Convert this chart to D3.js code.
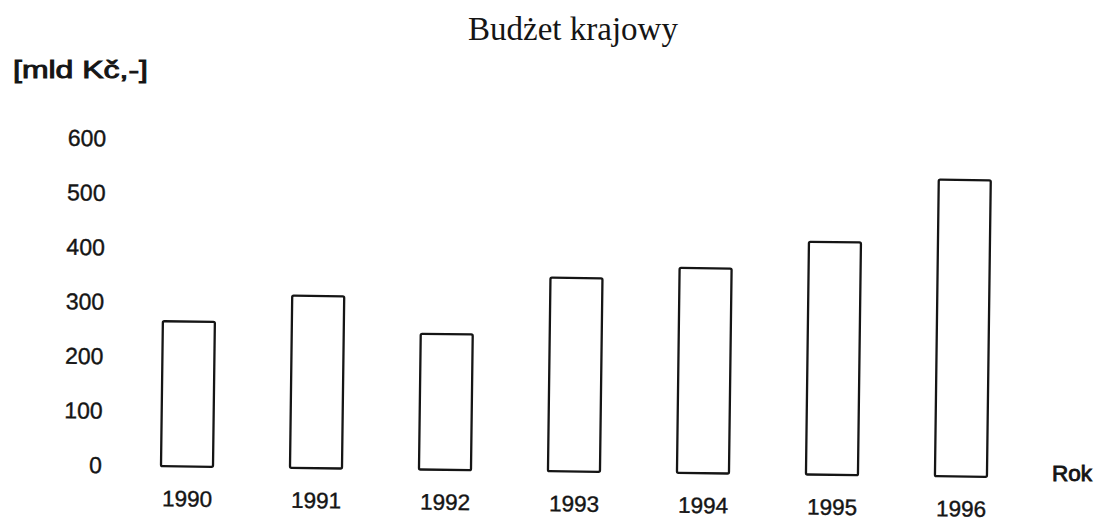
<!DOCTYPE html>
<html>
<head>
<meta charset="utf-8">
<script src="https://cdn.jsdelivr.net/npm/d3@7"></script>
<style>
  html, body { margin: 0; padding: 0; background: #fff; }
  svg { display: block; }
</style>
</head>
<body>
<script>
// ---- data ----
const years = ["1990", "1991", "1992", "1993", "1994", "1995", "1996"];
const values = [266, 316, 249, 355, 376, 427, 544];
const yTicks = [0, 100, 200, 300, 400, 500, 600];
const title = "Budżet krajowy";
const yUnit = "[mld Kč,-]";
const xName = "Rok";

// ---- layout ----
const W = 1101, H = 523;
const svg = d3.select("body").append("svg")
  .attr("width", W).attr("height", H);

const ink = "#151515";
const sans = "'Liberation Sans', Arial, sans-serif";
const serif = "'Liberation Serif', 'Times New Roman', serif";

const y = d3.scaleLinear().domain([0, 600]).range([466.5, 139.5]);
const x = d3.scalePoint().domain(years).range([187, 961]);
const barW = 52;

// scanned page is slightly tilted
const g = svg.append("g")
  .attr("transform", "rotate(0.74, 187, 466.5)");

g.selectAll("rect.bar")
  .data(years.map((yr, i) => ({ yr, v: values[i] })))
  .join("rect")
  .attr("class", "bar")
  .attr("x", d => x(d.yr) - barW / 2)
  .attr("y", d => y(d.v))
  .attr("width", barW)
  .attr("height", d => y(0) - y(d.v))
  .attr("rx", 1.5)
  .attr("fill", "#fff")
  .attr("stroke", ink)
  .attr("stroke-width", 2.3);

// y axis
const yAxis = g.append("g")
  .attr("transform", "translate(102,0)")
  .call(d3.axisLeft(y).tickValues(yTicks).tickSize(0).tickPadding(0).tickFormat(d3.format("d")));
yAxis.select(".domain").remove();
yAxis.selectAll("text")
  .attr("font-family", sans).attr("font-size", 23).attr("fill", ink)
  .attr("stroke", ink).attr("stroke-width", 0.4);

// x axis
const xAxis = g.append("g")
  .attr("transform", `translate(0,${y(0)})`)
  .call(d3.axisBottom(x).tickSize(0).tickPadding(24));
xAxis.select(".domain").remove();
xAxis.selectAll("text")
  .attr("font-family", sans).attr("font-size", 22.5).attr("fill", ink)
  .attr("stroke", ink).attr("stroke-width", 0.4);

// title
svg.append("text")
  .attr("x", 573).attr("y", 39.5)
  .attr("text-anchor", "middle")
  .attr("font-family", serif).attr("font-size", 33)
  .attr("fill", ink)
  .text(title);

// unit label
svg.append("text")
  .attr("x", 13).attr("y", 78)
  .attr("font-family", sans).attr("font-size", 23)
  .attr("textLength", 135).attr("lengthAdjust", "spacingAndGlyphs")
  .attr("fill", ink).attr("stroke", ink).attr("stroke-width", 0.9)
  .text(yUnit);

// x axis name
svg.append("text")
  .attr("x", 1052).attr("y", 481)
  .attr("font-family", sans).attr("font-size", 22.5)
  .attr("fill", ink).attr("stroke", ink).attr("stroke-width", 0.9)
  .text(xName);
</script>
</body>
</html>
